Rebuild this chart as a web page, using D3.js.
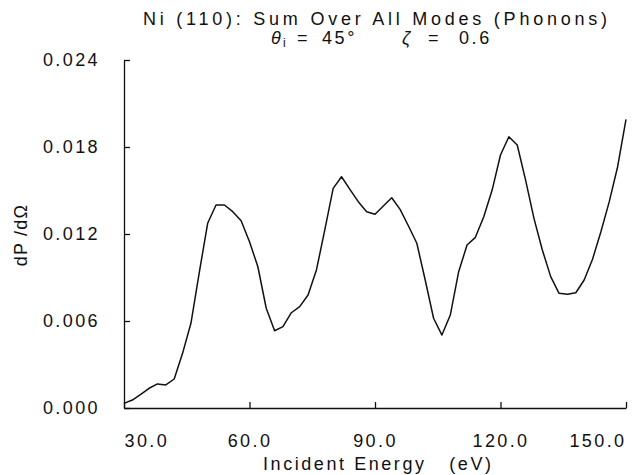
<!DOCTYPE html>
<meta charset="utf-8" />
<head>
  <script src="https://cdn.jsdelivr.net/npm/d3@7"></script>
  <title>Ni (110) phonons</title>
  <style>
    body {
      margin: 0;
      background: #fff;
    }
    text {
      font-family: "Liberation Sans", Arial, sans-serif;
      fill: #111;
    }
    .axis path,
    .axis line {
      stroke: #111;
      stroke-width: 1.3;
    }
    .axis text {
      font-size: 18px;
      letter-spacing: 2.4px;
    }
  </style>
</head>
<body>
  <svg id="chart" width="634" height="475"></svg>
</body>

<script>
  // incident energy (eV), one point every 2 eV
  const energies = [
    30, 32, 34, 36, 38, 40, 42, 44, 46, 48, 50, 52, 54, 56, 58, 60, 62, 64,
    66, 68, 70, 72, 74, 76, 78, 80, 82, 84, 86, 88, 90, 92, 94, 96, 98, 100,
    102, 104, 106, 108, 110, 112, 114, 116, 118, 120, 122, 124, 126, 128,
    130, 132, 134, 136, 138, 140, 142, 144, 146, 148, 150,
  ];

  // dP/dOmega
  const dPdOmega = [
    0.00032, 0.00055, 0.00094, 0.00136, 0.00166, 0.00159, 0.002, 0.00377,
    0.00584, 0.00935, 0.01274, 0.014, 0.014, 0.01354, 0.01292, 0.01147,
    0.00974, 0.00688, 0.00533, 0.00561, 0.00657, 0.00699, 0.00779, 0.00952,
    0.01228, 0.01515, 0.01595, 0.01508, 0.01423, 0.01354, 0.01336, 0.01393,
    0.0145, 0.0137, 0.01255, 0.01136, 0.00883, 0.00619, 0.00503, 0.00641,
    0.0094, 0.01124, 0.01177, 0.01319, 0.01503, 0.01745, 0.01871, 0.01814,
    0.01572, 0.01308, 0.0109, 0.00906, 0.00791, 0.00784, 0.00795, 0.00883,
    0.01026, 0.01216, 0.01423, 0.01664, 0.01991,
  ];

  const xTicks = [30, 60, 90, 120, 150];
  const yTicks = [0, 0.006, 0.012, 0.018, 0.024];

  const data = energies.map((e, i) => ({ e: e, v: dPdOmega[i] }));

  const svg = d3.select("#chart");
  const margin = { top: 60, right: 8, bottom: 67, left: 124 };
  const width = +svg.attr("width");
  const height = +svg.attr("height");

  const x = d3
    .scaleLinear()
    .domain([30, 150])
    .range([margin.left, width - margin.right]);

  const y = d3
    .scaleLinear()
    .domain([0, 0.024])
    .range([height - margin.bottom, margin.top]);

  // x axis, ticks pointing into the plot
  const xAxis = svg
    .append("g")
    .attr("class", "axis axis--x")
    .attr("transform", `translate(0,${height - margin.bottom})`)
    .call(
      d3
        .axisBottom(x)
        .tickValues(xTicks)
        .tickSizeInner(-6)
        .tickSizeOuter(0)
        .tickPadding(26)
        .tickFormat(d3.format(".1f"))
    );
  xAxis.selectAll("text").attr("text-anchor", (d, i) =>
    i == 0 ? "start" : i == xTicks.length - 1 ? "end" : "middle"
  );
  xAxis.select(".domain").attr("fill", "none");

  // y axis
  const yAxis = svg
    .append("g")
    .attr("class", "axis axis--y")
    .attr("transform", `translate(${margin.left},0)`)
    .call(
      d3
        .axisLeft(y)
        .tickValues(yTicks)
        .tickSizeInner(-6)
        .tickSizeOuter(0)
        .tickPadding(24)
        .tickFormat(d3.format(".3f"))
    );
  yAxis.select(".domain").attr("fill", "none");

  const line = d3
    .line()
    .x((d) => x(d.e))
    .y((d) => y(d.v));

  svg
    .append("path")
    .datum(data)
    .attr("fill", "none")
    .attr("stroke", "#111")
    .attr("stroke-width", 1.5)
    .attr("stroke-linejoin", "round")
    .attr("d", line);

  // titles
  svg
    .append("text")
    .attr("x", 375)
    .attr("y", 25)
    .attr("text-anchor", "middle")
    .attr("font-size", 18)
    .attr("textLength", 464)
    .attr("lengthAdjust", "spacing")
    .text("Ni (110): Sum Over All Modes (Phonons)");

  // second line: each piece placed where the reference has it
  const subParts = [
    { t: "θ", x: 271, italic: true },
    { t: "i", x: 283, small: true },
    { t: "=", x: 297 },
    { t: "45°", x: 322 },
    { t: "ζ", x: 402, italic: true },
    { t: "=", x: 428 },
    { t: "0.6", x: 459 },
  ];
  svg
    .append("g")
    .selectAll("text")
    .data(subParts)
    .enter()
    .append("text")
    .attr("x", (d) => d.x)
    .attr("y", (d) => (d.small ? 47 : 44))
    .attr("font-size", (d) => (d.small ? 12 : 18))
    .attr("font-style", (d) => (d.italic ? "italic" : "normal"))
    .attr("letter-spacing", 2.6)
    .text((d) => d.t);

  svg
    .append("text")
    .attr("x", 263)
    .attr("y", 470)
    .attr("font-size", 18)
    .attr("textLength", 228)
    .attr("lengthAdjust", "spacing")
    .style("white-space", "pre")
    .text("Incident Energy   (eV)");

  svg
    .append("text")
    .attr("transform", "translate(27,235) rotate(-90)")
    .attr("text-anchor", "middle")
    .attr("font-size", 18)
    .attr("letter-spacing", 1.2)
    .style("white-space", "pre")
    .text("dP /dΩ");
</script>
